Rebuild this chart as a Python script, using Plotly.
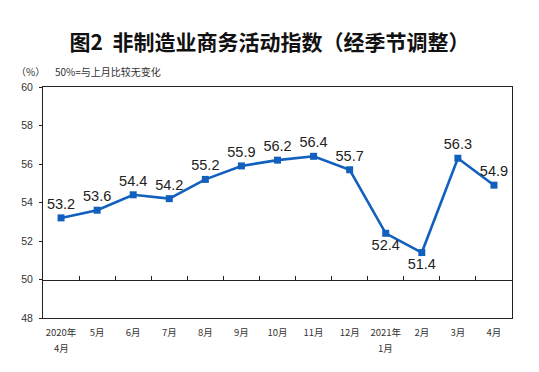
import plotly.graph_objects as go

categories = ["2020年4月", "5月", "6月", "7月", "8月", "9月", "10月", "11月",
              "12月", "2021年1月", "2月", "3月", "4月"]
tick_labels = ["2020年", "5月", "6月", "7月", "8月", "9月", "10月", "11月",
               "12月", "2021年", "2月", "3月", "4月"]
second_lines = {"2020年4月": "4月", "2021年1月": "1月"}
values = [53.2, 53.6, 54.4, 54.2, 55.2, 55.9, 56.2, 56.4, 55.7, 52.4, 51.4, 56.3, 54.9]
label_pos = ["top center"] * 9 + ["bottom center", "bottom center", "top center", "top center"]
y_ticks = [48, 50, 52, 54, 56, 58, 60]

LINE = "#1260bd"
fig = go.Figure()
fig.add_trace(go.Scatter(
    x=categories, y=values, mode="lines+markers+text",
    line=dict(color=LINE, width=2.6),
    marker=dict(symbol="square", size=7, color=LINE),
    text=[f"{v:.1f}" for v in values], textposition=label_pos,
    textfont=dict(family="Liberation Sans, Arial", size=14.5, color="#222"),
    cliponaxis=False, showlegend=False,
))
# invisible trace to drive the 50-baseline axis
fig.add_trace(go.Scatter(x=categories, y=values, xaxis="x2", mode="lines",
                         line=dict(width=0), opacity=0, showlegend=False, hoverinfo="skip"))

tick_font = dict(family="Noto Sans CJK SC", size=9.5, color="#333")
annotations = [
    dict(text="（%）", xref="paper", yref="paper", x=-0.062, y=1.068,
         xanchor="left", yanchor="middle", showarrow=False,
         font=dict(family="Noto Sans CJK SC", size=10, color="#333")),
    dict(text="50%=与上月比较无变化", xref="paper", yref="paper", x=0.021, y=1.068,
         xanchor="left", yanchor="middle", showarrow=False,
         font=dict(family="Noto Sans CJK SC", size=10, color="#333")),
]
for cat, txt in second_lines.items():
    annotations.append(dict(text=txt, xref="x", yref="paper", x=cat, y=-0.128,
                            xanchor="center", yanchor="middle", showarrow=False,
                            font=tick_font))

fig.update_layout(
    width=523, height=356,
    margin=dict(l=35, r=19, t=79, b=46),
    paper_bgcolor="white", plot_bgcolor="white",
    title=dict(text="<b>图2  非制造业商务活动指数（经季节调整）</b>",
               x=0.5, xanchor="center", y=0.904, yanchor="middle",
               font=dict(family="Noto Sans CJK SC", size=21, color="#111")),
    xaxis=dict(type="category", categoryorder="array", categoryarray=categories,
               tickvals=categories, ticktext=tick_labels,
               range=[-0.5, 12.5], showgrid=False, ticks="", ticklabelstandoff=6,
               showline=True, linecolor="#222", linewidth=1, mirror=True,
               tickfont=tick_font),
    xaxis2=dict(type="category", categoryorder="array", categoryarray=categories,
                range=[-0.5, 12.5], overlaying="x", anchor="free", position=1/6,
                showgrid=False, showticklabels=False, showline=True,
                linecolor="#222", linewidth=1, ticks="inside", ticklen=4,
                tickcolor="#222", tickson="boundaries"),
    yaxis=dict(range=[48, 60], tickvals=y_ticks, showgrid=False, zeroline=False,
               showline=True, linecolor="#222", linewidth=1, mirror=True,
               ticks="outside", ticklen=3, tickcolor="#222", ticklabelstandoff=4,
               tickfont=dict(family="Liberation Sans, Arial", size=10.5, color="#333")),
    annotations=annotations,
)
fig.write_html("out.html")
